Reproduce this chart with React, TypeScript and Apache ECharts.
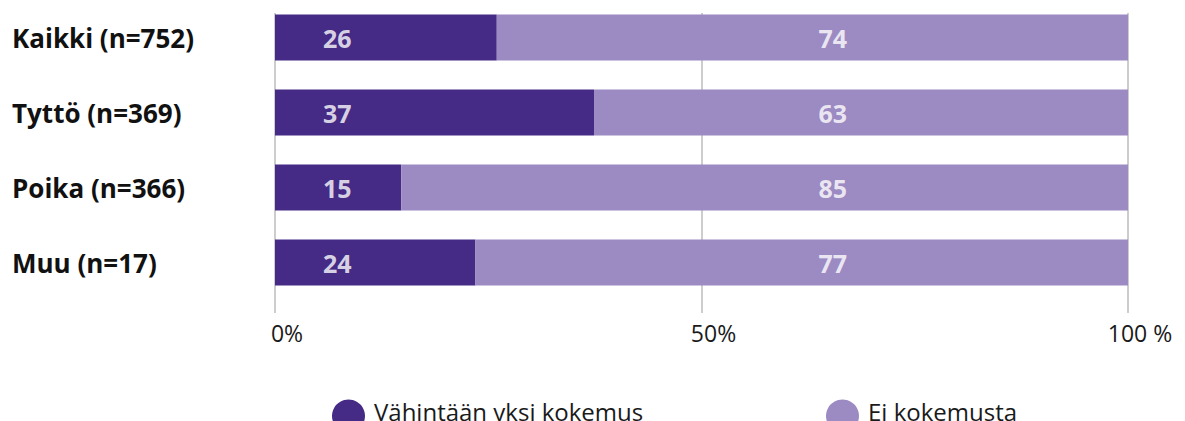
import React, { useEffect, useRef } from "react";
import * as echarts from "echarts";

const categories = ["Kaikki (n=752)", "Tyttö (n=369)", "Poika (n=366)", "Muu (n=17)"];
const seriesNames = ["Vähintään yksi kokemus", "Ei kokemusta"];
const darkValues = [26, 37.4, 14.8, 23.5];
const lightValues = [74, 62.6, 85.2, 76.5];
const darkLabels = [26, 37, 15, 24];
const lightLabels = [74, 63, 85, 77];
const xTicks = [0, 50, 100];
const xTickLabels = ["0%", "50%", "100 %"];

const DARK = "#452b86";
const LIGHT = "#9c8ac3";
const FONT = "'Open Sans', 'Noto Sans', sans-serif";
const LABEL_X_DARK = 7.3;
const LABEL_X_LIGHT = 65.4;

export default function App() {
  const ref = useRef<HTMLDivElement>(null);
  useEffect(() => {
    if (!ref.current) return;
    const chart = echarts.init(ref.current, undefined, { renderer: "svg" });
    const gridLeft = 275;
    const gridRight = 57;
    const legendText = {
      fontFamily: FONT,
      fontSize: 24,
      color: "#1a1a1a",
      rich: {
        t: {
          fontFamily: FONT,
          fontSize: 24,
          color: "#1a1a1a",
          padding: [0, 0, 10, 4],
        },
      },
    };
    const valueLabel = {
      show: true,
      position: "inside",
      color: "#ffffff",
      fontFamily: FONT,
      fontSize: 25,
      fontWeight: "bold",
    };
    chart.setOption({
      animation: false,
      textStyle: { fontFamily: FONT },
      grid: [
        { left: gridLeft, right: gridRight, top: 0, height: 300 },
        { left: gridLeft, right: gridRight, top: 13, height: 300 },
      ],
      legend: [
        {
          data: [seriesNames[0]],
          left: 327,
          top: 394,
          icon: "circle",
          itemWidth: 33,
          itemHeight: 33,
          formatter: (n: string) => "{t|" + n + "}",
          textStyle: legendText,
        },
        {
          data: [seriesNames[1]],
          left: 821,
          top: 394,
          icon: "circle",
          itemWidth: 33,
          itemHeight: 33,
          formatter: (n: string) => "{t|" + n + "}",
          textStyle: legendText,
        },
      ],
      xAxis: [
        {
          gridIndex: 0,
          type: "value",
          min: 0,
          max: 100,
          interval: 50,
          show: false,
          splitLine: { show: false },
        },
        {
          gridIndex: 1,
          type: "value",
          min: 0,
          max: 100,
          interval: 50,
          axisLine: { show: false },
          axisTick: { show: false },
          splitLine: { show: true, lineStyle: { color: "#bdbdbd", width: 1.5 } },
          axisLabel: {
            margin: 8,
            fontFamily: FONT,
            fontSize: 23,
            color: "#1a1a1a",
            padding: [0, 0, 0, 24],
            formatter: (v: number) => {
              const i = xTicks.indexOf(v);
              return i >= 0 ? xTickLabels[i] : "";
            },
          },
        },
      ],
      yAxis: [
        {
          gridIndex: 0,
          type: "category",
          data: categories,
          inverse: true,
          axisLine: { show: false },
          axisTick: { show: false },
          splitLine: { show: false },
          axisLabel: {
            align: "left",
            margin: 263,
            fontFamily: FONT,
            fontSize: 26,
            fontWeight: "bold",
            color: "#111111",
          },
        },
        {
          gridIndex: 1,
          type: "category",
          data: categories,
          inverse: true,
          show: false,
        },
      ],
      series: [
        {
          name: seriesNames[0],
          type: "bar",
          stack: "total",
          xAxisIndex: 0,
          yAxisIndex: 0,
          barWidth: 46,
          itemStyle: { color: DARK },
          data: darkValues,
          z: 3,
        },
        {
          name: seriesNames[1],
          type: "bar",
          stack: "total",
          xAxisIndex: 0,
          yAxisIndex: 0,
          barWidth: 46,
          itemStyle: { color: LIGHT },
          data: lightValues,
          z: 3,
        },
        {
          type: "scatter",
          xAxisIndex: 0,
          yAxisIndex: 0,
          symbolSize: 1,
          itemStyle: { color: "rgba(0,0,0,0)" },
          silent: true,
          z: 5,
          data: categories.map((c) => [LABEL_X_DARK, c]),
          label: { ...valueLabel, formatter: (p: any) => String(darkLabels[p.dataIndex]) },
        },
        {
          type: "scatter",
          xAxisIndex: 0,
          yAxisIndex: 0,
          symbolSize: 1,
          itemStyle: { color: "rgba(0,0,0,0)" },
          silent: true,
          z: 5,
          data: categories.map((c) => [LABEL_X_LIGHT, c]),
          label: { ...valueLabel, formatter: (p: any) => String(lightLabels[p.dataIndex]) },
        },
      ],
    });
    return () => chart.dispose();
  }, []);
  return <div ref={ref} style={{ width: 1185, height: 421, position: "absolute", left: 0, top: 0 }} />;
}
